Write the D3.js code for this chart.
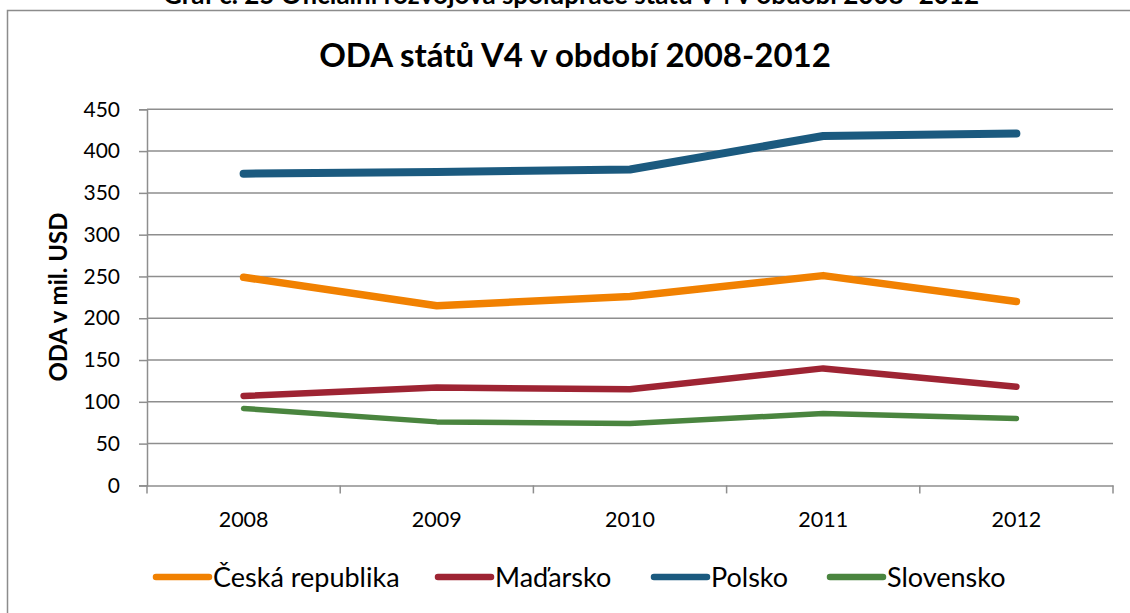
<!DOCTYPE html>
<html>
<head>
<meta charset="utf-8">
<script src="https://cdn.jsdelivr.net/npm/d3@7"></script>
<style>
  body { margin: 0; background: #fff; }
  svg { display: block; font-family: Lato, "Open Sans", sans-serif; }
</style>
</head>
<body>
<svg width="1130" height="613"></svg>
<script>
var years = ["2008", "2009", "2010", "2011", "2012"];
var seriesNames = ["Česká republika", "Maďarsko", "Polsko", "Slovensko"];
var ceskaValues = [249, 215, 226, 251, 220];
var madarskoValues = [107, 117, 115, 140, 118];
var polskoValues = [373, 375, 378, 418, 421];
var slovenskoValues = [92, 76, 74, 86, 80];
var yTicks = [0, 50, 100, 150, 200, 250, 300, 350, 400, 450];
var colors = ["#f18101", "#9e2433", "#1b5a7f", "#4a853f"];
var widths = [7.5, 6.5, 8, 5.5];

var series = [ceskaValues, madarskoValues, polskoValues, slovenskoValues];

var svg = d3.select("svg");

// caption above the chart, cut off by the page edge like in the source
svg.append("text")
    .attr("x", 571).attr("y", 4)
    .attr("text-anchor", "middle")
    .style("font-size", "26px").style("font-weight", "bold")
    .text("Graf č. 25 Oficiální rozvojová spolupráce států V4 v období 2008–2012");

// frame
svg.append("rect")
    .attr("x", 7.5).attr("y", 10.5)
    .attr("width", 1130).attr("height", 620)
    .attr("fill", "none").attr("stroke", "#8c8c8c").attr("stroke-width", 1.5);

svg.append("text")
    .attr("x", 575).attr("y", 67)
    .attr("text-anchor", "middle")
    .style("font-size", "33px").style("font-weight", "bold")
    .text("ODA států V4 v období 2008-2012");

var x = d3.scaleBand().domain(years).range([147, 1113]);
var y = d3.scaleLinear().domain([0, 450]).range([485.4, 109.3]);

// gridlines
svg.append("g").selectAll("line")
    .data(yTicks.slice(1))
    .enter().append("line")
    .attr("x1", 147).attr("x2", 1113)
    .attr("y1", function(d) { return y(d); })
    .attr("y2", function(d) { return y(d); })
    .attr("stroke", "#8e8e8e").attr("stroke-width", 1.5);

// y axis
var yAxis = svg.append("g")
    .attr("transform", "translate(147,0)")
    .call(d3.axisLeft(y).tickValues(yTicks).tickSize(8).tickPadding(19));
yAxis.select(".domain").attr("stroke", "#8e8e8e").attr("stroke-width", 1.5);
yAxis.selectAll(".tick line").attr("stroke", "#8e8e8e").attr("stroke-width", 1.5);
yAxis.selectAll("text").style("font-size", "21px").style("font-family", "Lato, 'Open Sans', sans-serif").attr("fill", "#000");

// x axis
var xAxis = svg.append("g")
    .attr("transform", "translate(0," + y(0) + ")")
    .call(d3.axisBottom(x).tickSize(0).tickPadding(26));
xAxis.select(".domain").attr("stroke", "#8e8e8e").attr("stroke-width", 1.5);
xAxis.selectAll("text").style("font-size", "21.5px").style("font-family", "Lato, 'Open Sans', sans-serif").attr("fill", "#000");
var bounds = years.map(function(d) { return x(d); }).concat([x.range()[1]]);
xAxis.selectAll(".bound").data(bounds).enter().append("line")
    .attr("x1", function(d) { return d; }).attr("x2", function(d) { return d; })
    .attr("y1", 0).attr("y2", 8)
    .attr("stroke", "#8e8e8e").attr("stroke-width", 1.5);

// axis title
svg.append("text")
    .attr("transform", "translate(67,297) rotate(-90)")
    .attr("text-anchor", "middle")
    .style("font-size", "24px").style("font-weight", "bold")
    .text("ODA v mil. USD");

var line = d3.line()
    .x(function(d, i) { return x(years[i]) + x.bandwidth() / 2; })
    .y(function(d) { return y(d); });

svg.append("g").selectAll("path")
    .data(series)
    .enter().append("path")
    .attr("d", line)
    .attr("fill", "none")
    .attr("stroke", function(d, i) { return colors[i]; })
    .attr("stroke-width", function(d, i) { return widths[i]; })
    .attr("stroke-linecap", "round")
    .attr("stroke-linejoin", "round");

// legend
var legendX = [156, 438, 654, 830];
var legend = svg.append("g").selectAll("g")
    .data(seriesNames)
    .enter().append("g")
    .attr("transform", function(d, i) { return "translate(" + legendX[i] + ",577)"; });
legend.append("line")
    .attr("x1", 0).attr("x2", 53)
    .attr("stroke", function(d, i) { return colors[i]; })
    .attr("stroke-width", 6.5)
    .attr("stroke-linecap", "round");
legend.append("text")
    .attr("x", 57).attr("y", 10)
    .style("font-size", "27px")
    .text(function(d) { return d; });
</script>
</body>
</html>
